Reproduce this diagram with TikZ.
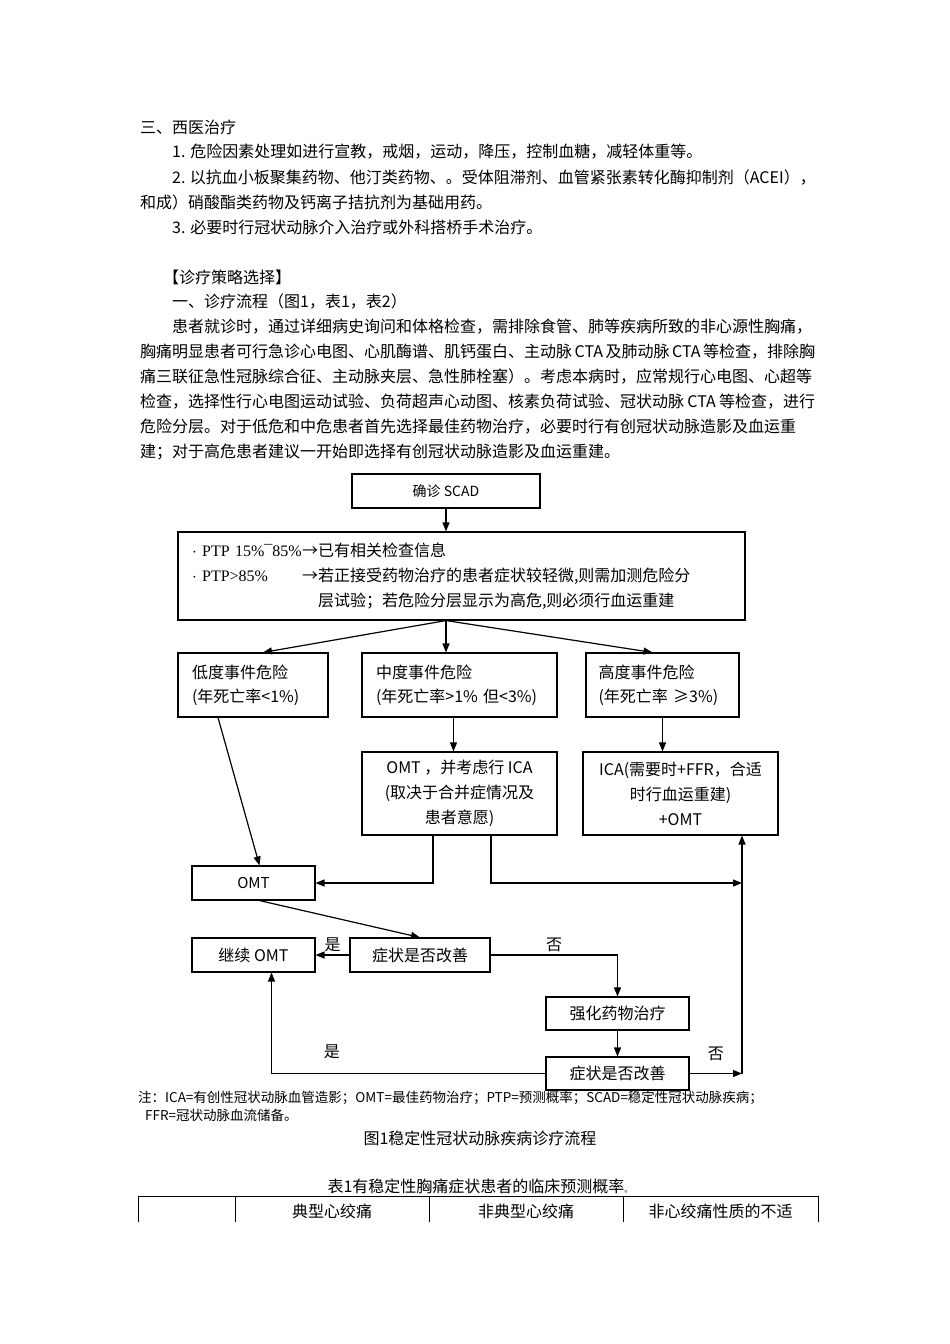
\documentclass[tikz,border=0pt]{standalone}
\usepackage{fontspec}
\setmainfont{Noto Sans CJK SC}
\newfontfamily\latinfnt{Liberation Serif}
\usepackage{tikz}
\usetikzlibrary{arrows.meta, positioning, calc}
\XeTeXlinebreaklocale "zh"
\XeTeXlinebreakskip=0pt plus 2pt
\newcommand{\fsz}[2]{\fontsize{#1}{#2}\selectfont}

\begin{document}
\begin{tikzpicture}[x=1pt, y=-1pt,
    box/.style={draw, line width=1.1pt, inner sep=0pt, font=\fsz{16}{24}},
    arr/.style={line width=1.2pt, -{Triangle[length=9pt,width=7pt]}},
    txt/.style={inner sep=0pt, anchor=west, font=\fsz{16}{20}},
    lbl/.style={inner sep=0pt, font=\fsz{16}{20}}]
        \useasboundingbox (0,0) rectangle (950,1344);

        % text above the chart
        \node[txt] (t1) at (140,127) {三、西医治疗};
        \node[txt] (t2) at (172,152) {1. 危险因素处理如进行宣教，戒烟，运动，降压，控制血糖，减轻体重等。};
        \node[txt] (t3) at (172,178) {\hbox to 643pt{2. 以抗血小板聚集药物、他汀类药物、。受体阻滞剂、血管紧张素转化酶抑制剂（ACEI），}};
        \node[txt] (t4) at (140,202) {和成）硝酸酯类药物及钙离子拮抗剂为基础用药。};
        \node[txt] (t5) at (172,227) {3. 必要时行冠状动脉介入治疗或外科搭桥手术治疗。};
        \node[txt] (t6) at (163,277) {【诊疗策略选择】};
        \node[txt] (t7) at (172,302) {一、诊疗流程（图1，表1，表2）};
        \node[txt] (t8) at (172,327) {\hbox to 643pt{患者就诊时，通过详细病史询问和体格检查，需排除食管、肺等疾病所致的非心源性胸痛，}};
        \node[txt] (t9) at (140,352) {\hbox to 675pt{胸痛明显患者可行急诊心电图、心肌酶谱、肌钙蛋白、主动脉 CTA 及肺动脉 CTA 等检查，排除胸}};
        \node[txt] (t10) at (140,377) {\hbox to 675pt{痛三联征急性冠脉综合征、主动脉夹层、急性肺栓塞）。考虑本病时，应常规行心电图、心超等}};
        \node[txt] (t11) at (140,402) {\hbox to 675pt{检查，选择性行心电图运动试验、负荷超声心动图、核素负荷试验、冠状动脉 CTA 等检查，进行}};
        \node[txt] (t12) at (140,427) {\hbox to 675pt{危险分层。对于低危和中危患者首先选择最佳药物治疗，必要时行有创冠状动脉造影及血运重}};
        \node[txt] (t13) at (140,452) {建；对于高危患者建议一开始即选择有创冠状动脉造影及血运重建。};

        % flow chart
        \node[box, minimum width=188, minimum height=34, font=\fsz{14}{18}] (scad) at (446,491) {确诊 SCAD};
        \node[box, minimum width=567, minimum height=88, text width=539, inner xsep=14, align=left, font=\fsz{16}{25}] (ptp) at (461.5,576)
            {\makebox[110pt][l]{\latinfnt $\cdot$ PTP 15\%¯85\%}→已有相关检查信息\\
             \makebox[110pt][l]{\latinfnt $\cdot$ PTP>85\%}→若正接受药物治疗的患者症状较轻微,则需加测危险分\\
             \hspace*{126pt}层试验；若危险分层显示为高危,则必须行血运重建};

        \node[box, minimum width=150, minimum height=64, text width=122, inner xsep=14, align=left] (low) at (253,685) {低度事件危险\\(年死亡率<1\%)};
        \node[box, minimum width=195, minimum height=64, text width=167, inner xsep=14, align=left] (mid) at (459.5,685) {中度事件危险\\(年死亡率>1\% 但<3\%)};
        \node[box, minimum width=153, minimum height=64, text width=128, inner xsep=12.5, align=left] (high) at (662.5,685) {高度事件危险\\(年死亡率 ≥3\%)};

        \node[box, minimum width=195, minimum height=83, align=center, font=\fsz{16}{25}] (omtica) at (459.5,793.5) {OMT ，并考虑行 ICA\\(取决于合并症情况及\\患者意愿)};
        \node[box, minimum width=195, minimum height=83, align=center, font=\fsz{16}{25}] (ica) at (680.5,793.5) {ICA(需要时+FFR，合适\\时行血运重建)\\+OMT};

        \node[box, minimum width=123, minimum height=34, font=\fsz{15}{18}] (omt) at (253.5,883) {OMT};
        \node[box, minimum width=123, minimum height=34] (contomt) at (253.5,955) {继续 OMT};
        \node[box, minimum width=140, minimum height=34] (chk1) at (420,955) {症状是否改善};
        \node[box, minimum width=143, minimum height=33] (intens) at (617.5,1013.5) {强化药物治疗};
        \node[box, minimum width=143, minimum height=33] (chk2) at (617.5,1073.5) {症状是否改善};

        \coordinate (split) at (scad |- ptp.south);
        \coordinate (rjoin) at (742,883);
        \coordinate (rbot) at (742,1073.5);

        \draw[arr] (scad) -- (scad |- ptp.north);
        \draw[arr] (split) -- ([xshift=10pt]low.north);
        \draw[arr] (split) -- (split |- mid.north);
        \draw[arr] (split) -- ([xshift=-10pt]high.north);
        \draw[arr] ([xshift=-6pt]mid.south) -- ([xshift=-6pt]omtica.north);
        \draw[arr] (high.south) -- (high.south |- ica.north);
        \draw[arr] ([xshift=-35pt]low.south) -- ([xshift=6pt]omt.north);
        \draw[arr] ([xshift=-26.5pt]omtica.south) |- (omt.east);
        \draw[arr] ([xshift=31.5pt]omtica.south) |- (rjoin);
        \draw[arr] ([xshift=6pt]omt.south) -- (chk1.north);
        \draw[arr] (chk1.west) -- (contomt.east) node[lbl, midway, above=3pt] {是};
        \draw[arr] (chk1.east) -| (intens.north) node[lbl, pos=0.25, above=3pt] {否};
        \draw[arr] (intens) -- (chk2);
        \draw[arr] (chk2.west) -| ([xshift=18pt]contomt.south) node[lbl, pos=0.39, above=14pt] {是};
        \draw[arr] (chk2.east) -- (rbot) node[lbl, midway, above=12pt] {否};
        \draw[arr] (rbot) -- (rbot |- ica.south);

        % notes and captions
        \node[txt, font=\fsz{13.5}{16}] (n1) at (138,1098) {注：ICA=有创性冠状动脉血管造影；OMT=最佳药物治疗；PTP=预测概率；SCAD=稳定性冠状动脉疾病；};
        \node[txt, font=\fsz{13.5}{16}] (n2) at (145,1115) {FFR=冠状动脉血流储备。};
        \node[lbl] (cap1) at (480,1138) {图1稳定性冠状动脉疾病诊疗流程};
        \node[lbl] (cap2) at (480,1186) {表1有稳定性胸痛症状患者的临床预测概率{\fsz{8}{8}。}};

        % table head
        \draw[line width=0.8pt] (138,1196) -- (818,1196);
        \foreach \xx in {138,235,429,623,818}
            \draw[line width=0.8pt] (\xx,1196) -- (\xx,1222);
        \node[lbl] (h1) at (332,1211) {典型心绞痛};
        \node[lbl] (h2) at (526,1211) {非典型心绞痛};
        \node[lbl] (h3) at (720.5,1211) {非心绞痛性质的不适};
\end{tikzpicture}
\end{document}
